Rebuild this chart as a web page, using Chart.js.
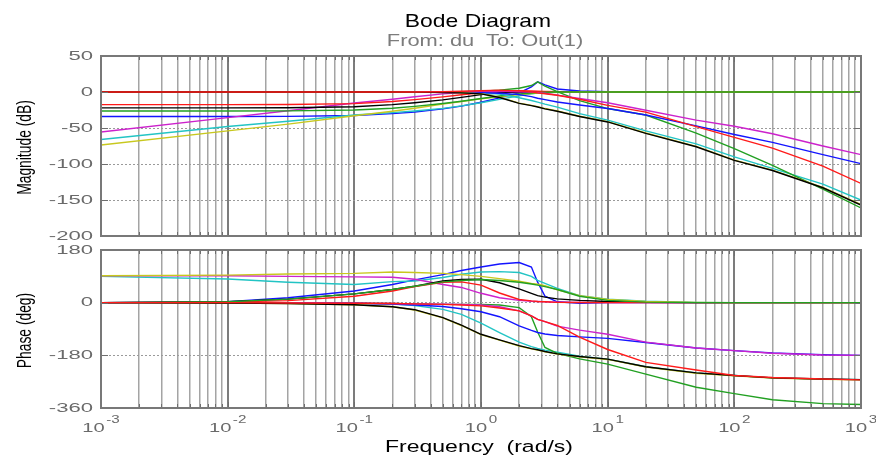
<!DOCTYPE html>
<html>
<head>
<meta charset="utf-8">
<script src="https://cdn.jsdelivr.net/npm/chart.js@4.4.1/dist/chart.umd.min.js"></script>
<style>
  html, body { margin: 0; padding: 0; background: #fff; }
  #wrap { position: relative; width: 876px; height: 456px; overflow: hidden; }
  canvas { position: absolute; left: 0; }
  #magCanvas { top: 0; }
  #phaseCanvas { top: 244px; }
  .lbl { position: absolute; left: 0; top: 0; font-family: "Liberation Sans", Arial, sans-serif;
         white-space: pre; line-height: 1; transform-origin: 0 0; }
</style>
</head>
<body>
<div id="wrap">
  <canvas id="magCanvas" width="876" height="244"></canvas>
  <canvas id="phaseCanvas" width="876" height="212"></canvas>
  <div class="lbl" id="title" style="font-size:18.5px;color:#000">Bode Diagram</div>
  <div class="lbl" id="subtitle" style="font-size:16.3px;color:#7c7c7c">From: du  To: Out(1)</div>
  <div class="lbl" id="xlabel" style="font-size:16.3px;color:#000">Frequency  (rad/s)</div>
  <div class="lbl" id="magLabel" style="font-size:21px;color:#000">Magnitude (dB)</div>
  <div class="lbl" id="phaseLabel" style="font-size:21px;color:#000">Phase (deg)</div>
</div>
<script>
// frequencies (rad/s) shared by every response
const freq = [0.001, 0.01, 0.03, 0.1, 0.2, 0.3, 0.5, 0.7, 1, 1.4, 2, 2.5, 2.8, 3.2, 4, 6, 10, 20, 50, 100, 200, 500, 1000];

// magnitude (dB), curves rising to 0 dB
const magSRed     = [-17.5, -17.5, -17.4, -16.2, -13.2, -10.6, -6.8, -3.8, -1.0, 1.0, 1.8, 1.4, 1.0, 0.6, 0.3, 0.1, 0, 0, 0, 0, 0, 0, 0];
const magSBlack   = [-22, -22, -21.8, -20.4, -17.6, -15, -11, -7.4, -3.6, -1.2, -0.2, 0, 0, 0, 0, 0, 0, 0, 0, 0, 0, 0, 0];
const magSGreen   = [-26.4, -26.4, -26.2, -25, -22.6, -20, -16, -12.8, -9, -5.6, -2.6, -1.3, -0.8, -0.4, -0.1, 0, 0, 0, 0, 0, 0, 0, 0];
const magSYellow  = [-73.6, -54, -44.6, -33, -26.8, -22.5, -16.8, -13.2, -9.6, -6.6, -3.6, -2.2, -1.6, -1.0, -0.5, -0.1, 0, 0, 0, 0, 0, 0, 0];
const magSCyan    = [-66, -48, -40.6, -32, -28.6, -26.4, -22.8, -19.2, -15, -10.2, -5.2, -2.6, -1.6, -0.9, -0.4, -0.1, 0, 0, 0, 0, 0, 0, 0];
const magSBlue    = [-34, -34, -33.8, -32.6, -30, -27.8, -23.4, -19.6, -14.2, -8.2, -1.2, 7, 14, 10, 4.2, 1.4, 0.4, 0.1, 0, 0, 0, 0, 0];
const magSMagenta = [-55.5, -35.6, -26, -15.2, -10, -6.6, -2.6, -1.1, -0.3, 0, 0, 0, 0, 0, 0, 0, 0, 0, 0, 0, 0, 0, 0];

// magnitude (dB), curves rolling off
const magTRed     = [0, 0, 0, 0, 0, 0.1, 0.4, 1, 1.8, 2.4, 1.6, 0.2, -1.2, -2.4, -4.6, -10, -18.5, -28, -48, -63, -78, -103, -127];
const magTBlack   = [0, 0, 0, 0, 0, -0.2, -0.6, -1.2, -2.6, -7.6, -15.8, -19, -20.8, -23.4, -26.8, -34, -41.6, -57.4, -76, -95, -109, -133, -157];
const magTMagenta = [0, 0, 0, 0, 0, 0, 0.2, 0.5, 0.8, 0.8, 0.4, -0.2, -0.9, -1.8, -4.4, -9, -15, -25.4, -39, -47.6, -58, -75, -87];
const magTBlue    = [0, 0, 0, 0, 0, 0, -0.1, -0.3, -0.8, -1.8, -3.6, -6.4, -8.6, -10.6, -13.9, -18, -23, -32, -47, -59, -70, -87, -99.5];
const magTGreen   = [0, 0, 0, 0, 0, 0.1, 0.2, 0.5, 1.2, 2.6, 5.2, 9, 14, 8, 0.4, -12, -23, -32, -57, -78.6, -102, -135, -161];
const magTCyan    = [0, 0, 0, 0, 0, 0, 0, -0.3, -1, -2.8, -8, -11.8, -14, -16.8, -21, -30, -39, -54, -72, -90, -106, -128, -150];
const magTYellow  = [0, 0, 0, 0, 0, -0.2, -0.5, -1.1, -2.4, -7.2, -15.4, -18.6, -20.4, -23, -26.4, -33.6, -41.2, -57, -75.6, -94.6, -108.6, -132.4, -156.4];

// phase (deg), curves going back to 0
const phSRed     = [0, 2, 7, 22, 40, 55, 70, 71, 60, 33, 11, 6, 4, 3, 1, 0.5, 0, 0, 0, 0, 0, 0, 0];
const phSBlack   = [0, 3, 12, 30, 45, 56, 74, 79, 80, 68, 47, 32, 24, 19, 13, 8, 4, 1, 0, 0, 0, 0, 0];
const phSGreen   = [0, 3, 12, 30, 45, 56, 71, 76, 79, 76, 70, 64, 60, 55, 45, 22, 8, 2, 0, 0, 0, 0, 0];
const phSYellow  = [92, 94, 98, 100, 105, 103, 100, 96, 90, 82, 73, 66, 63, 58, 44, 24, 11, 4, 1, 0, 0, 0, 0];
const phSCyan    = [90, 81, 70, 62, 72, 74, 86, 97, 105, 106, 103, 90, 76, 66, 49, 24, 12, 5, 1, 0, 0, 0, 0];
const phSBlue    = [0, 3, 17, 40, 62, 78, 96, 110, 122, 132, 137, 122, 70, 22, 3, -2, 0, 0, 0, 0, 0, 0, 0];
const phSMagenta = [92, 92, 90, 88, 87, 80, 62, 52, 32, 17, 8, 5, 4, 3, 2, 1, 0, 0, 0, 0, 0, 0, 0];

// phase (deg), curves falling
const phTRed     = [0, 0, -1, -2, -3, -4, -6, -8, -11, -18, -28, -45, -57, -65, -78, -118, -160, -204, -230, -249, -256, -261, -264];
const phTBlack   = [0, -1, -3, -7, -14, -24, -51, -77, -108, -127, -147, -157, -161, -167, -175, -184, -193, -219, -240, -249, -257, -261, -263];
const phTMagenta = [0, 0, -1, -2, -3, -4, -5, -6, -8, -14, -28, -45, -57, -65, -80, -94, -108, -135, -155, -164, -173, -179, -180];
const phTBlue    = [0, 0, -1, -2, -5, -8, -13, -21, -31, -48, -79, -95, -102, -107, -112, -117, -122, -136, -155, -164, -172, -178, -180];
const phTGreen   = [0, 0, -1, -2, -3, -4, -6, -6, -6, -8, -17, -48, -100, -153, -173, -192, -210, -244, -289, -311, -332, -345, -348];
const phTCyan    = [0, 0, -1, -2, -5, -10, -23, -40, -70, -102, -135, -150, -156, -162, -169, -183, -193, -219, -240, -249, -257, -261, -263];
const phTYellow  = [0, -1, -3, -7, -14, -25, -52, -78, -109, -128, -148, -158, -162, -168, -176, -185, -194, -220, -241, -250, -258, -262, -264];

const magTicks = [50, 0, -50, -100, -150, -200];
const phaseTicks = [180, 0, -180, -360];
const decades = [-3, -2, -1, 0, 1, 2, 3];

const RED = "#ff1a1a", BLACK = "#000000", MAGENTA = "#cc22cc", BLUE = "#1414ff",
      GREEN = "#22a022", CYAN = "#22c4c4", YELLOW = "#c8c81e";

// minor log grid positions
const gridFreqs = [];
decades.slice(0, -1).forEach(k => { for (let m = 1; m <= 9; m++) gridFreqs.push(m * Math.pow(10, k)); });
gridFreqs.push(1000);
const isDecade = v => Math.abs(Math.log10(v) - Math.round(Math.log10(v))) < 1e-6;

function series(values, color) {
  return {
    data: values.map((v, i) => ({ x: freq[i], y: v })),
    borderColor: color, borderWidth: 1.4, pointRadius: 0, fill: false, tension: 0
  };
}

function stretched(ctx, text, x, y, sx, align) {
  ctx.save();
  ctx.translate(x, y);
  ctx.scale(sx, 1);
  ctx.textAlign = align;
  ctx.fillText(text, 0, 0);
  ctx.restore();
}

const decor = {
  id: "decor",
  afterDraw(chart, args, opts) {
    const ctx = chart.ctx;
    const { left, right, top, bottom } = chart.chartArea;
    const xs = chart.scales.x, ys = chart.scales.y;
    ctx.save();
    ctx.strokeStyle = "#6e6e6e";
    ctx.lineWidth = 1;
    ctx.beginPath();
    gridFreqs.forEach(v => {
      const px = Math.round(xs.getPixelForValue(v)) + 0.5;
      const len = isDecade(v) ? 6 : 4;
      ctx.moveTo(px, top); ctx.lineTo(px, top + len);
      ctx.moveTo(px, bottom); ctx.lineTo(px, bottom - len);
    });
    opts.ticks.forEach(v => {
      const py = Math.round(ys.getPixelForValue(v)) + 0.5;
      ctx.moveTo(left, py); ctx.lineTo(left + 7, py);
      ctx.moveTo(right, py); ctx.lineTo(right - 7, py);
    });
    ctx.stroke();

    ctx.strokeStyle = "#787878";
    ctx.lineWidth = 2;
    ctx.strokeRect(left, top, right - left, bottom - top);

    ctx.fillStyle = "#6a6a6a";
    ctx.font = '13px "Liberation Sans", Arial, sans-serif';
    ctx.textBaseline = "middle";
    opts.ticks.forEach(v => stretched(ctx, String(v), 93, ys.getPixelForValue(v), 1.7, "right"));

    if (opts.xLabels) {
      ctx.textBaseline = "alphabetic";
      decades.forEach(k => {
        const px = xs.getPixelForValue(Math.pow(10, k));
        ctx.font = '13px "Liberation Sans", Arial, sans-serif';
        const wBase = ctx.measureText("10").width * 1.55;
        ctx.font = '10.5px "Liberation Sans", Arial, sans-serif';
        const wSup = ctx.measureText(String(k)).width * 1.45;
        const x0 = px - (wBase + 1.5 + wSup) / 2;
        ctx.font = '13px "Liberation Sans", Arial, sans-serif';
        stretched(ctx, "10", x0, bottom + 24, 1.55, "left");
        ctx.font = '10.5px "Liberation Sans", Arial, sans-serif';
        stretched(ctx, String(k), x0 + wBase + 1.5, bottom + 15, 1.45, "left");
      });
    }
    ctx.restore();
  }
};

function makeChart(canvas, datasets, yMin, yMax, step, ticks, padding, xLabels) {
  return new Chart(canvas.getContext("2d"), {
    type: "line",
    data: { datasets },
    plugins: [decor],
    options: {
      responsive: false,
      animation: false,
      devicePixelRatio: 1,
      layout: { padding },
      plugins: { legend: { display: false }, tooltip: { enabled: false }, decor: { ticks, xLabels } },
      scales: {
        x: {
          type: "logarithmic", min: 0.001, max: 1000,
          afterBuildTicks: s => { s.ticks = gridFreqs.map(v => ({ value: v })); },
          afterFit: s => { s.height = 0; },
          ticks: { display: false },
          border: { display: false },
          grid: {
            drawTicks: false,
            color: c => (isDecade(c.tick.value) ? "#7c7c7c" : "#a4a4a4"),
            lineWidth: c => (isDecade(c.tick.value) ? 2 : 1.5)
          }
        },
        y: {
          type: "linear", min: yMin, max: yMax,
          ticks: { display: false, stepSize: step },
          afterFit: s => { s.width = 101; },
          border: { display: false, dash: [2, 2] },
          grid: { drawTicks: false, color: "#9a9a9a", lineWidth: 1 }
        }
      }
    }
  });
}

makeChart(document.getElementById("magCanvas"), [
  series(magTRed, RED), series(magTBlack, BLACK), series(magTYellow, YELLOW), series(magTMagenta, MAGENTA),
  series(magTBlue, BLUE), series(magTGreen, GREEN), series(magTCyan, CYAN),
  series(magSGreen, GREEN), series(magSYellow, YELLOW), series(magSRed, RED), series(magSBlack, BLACK),
  series(magSMagenta, MAGENTA), series(magSCyan, CYAN), series(magSBlue, BLUE)
], -200, 50, 50, magTicks, { top: 56, bottom: 8, left: 0, right: 15 }, false);

makeChart(document.getElementById("phaseCanvas"), [
  series(phTRed, RED), series(phTBlack, BLACK), series(phTYellow, YELLOW), series(phTMagenta, MAGENTA),
  series(phTBlue, BLUE), series(phTGreen, GREEN), series(phTCyan, CYAN),
  series(phSGreen, GREEN), series(phSYellow, YELLOW), series(phSRed, RED), series(phSBlack, BLACK),
  series(phSMagenta, MAGENTA), series(phSCyan, CYAN), series(phSBlue, BLUE)
], -360, 180, 180, phaseTicks, { top: 6, bottom: 48, left: 0, right: 15 }, true);

function placeLabel(id, cx, cy, targetWidth, rotated) {
  const el = document.getElementById(id);
  const sx = targetWidth / el.offsetWidth;
  el.style.transform = "translate(" + cx + "px," + cy + "px)" + (rotated ? " rotate(-90deg)" : "") +
    " scale(" + sx + ",1) translate(-50%,-50%)";
}
placeLabel("title", 478, 21.5, 146, false);
placeLabel("subtitle", 485, 40.5, 196, false);
placeLabel("xlabel", 479, 446.5, 188, false);
placeLabel("magLabel", 23, 147.5, 95, true);
placeLabel("phaseLabel", 23, 330.5, 75, true);
</script>
</body>
</html>
